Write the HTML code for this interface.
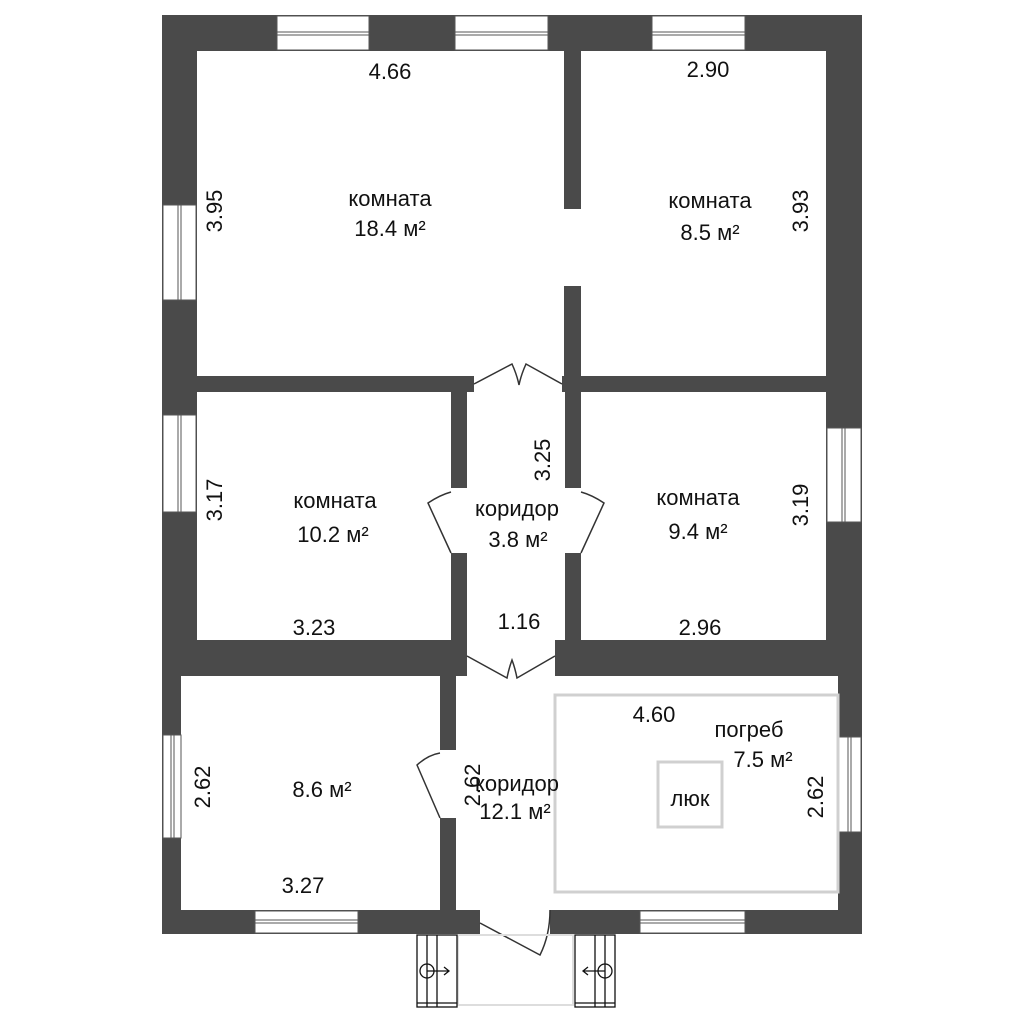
<!DOCTYPE html>
<html><head><meta charset="utf-8"><style>
html,body{margin:0;padding:0;background:#fff;width:1024px;height:1024px;overflow:hidden}
svg{display:block}
text{font-family:"Liberation Sans",sans-serif;fill:#111;font-size:22px}
</style></head><body>
<svg width="1024" height="1024" viewBox="0 0 1024 1024">
<g fill="#4a4a4a">
<rect x="162" y="15" width="700" height="36"/>
<rect x="162" y="15" width="35" height="661"/>
<rect x="826" y="15" width="36" height="661"/>
<rect x="162" y="640" width="19" height="294"/>
<rect x="838" y="640" width="24" height="294"/>
<rect x="162" y="910" width="318" height="24"/>
<rect x="550" y="910" width="312" height="24"/>
<rect x="564" y="51" width="17" height="158"/>
<rect x="564" y="286" width="17" height="106"/>
<rect x="197" y="376" width="277" height="16"/>
<rect x="562" y="376" width="264" height="16"/>
<rect x="451" y="376" width="16" height="112"/>
<rect x="451" y="553" width="16" height="123"/>
<rect x="565" y="376" width="16" height="112"/>
<rect x="565" y="553" width="16" height="87"/>
<rect x="162" y="640" width="305" height="36"/>
<rect x="555" y="640" width="307" height="36"/>
<rect x="440" y="676" width="16" height="74"/>
<rect x="440" y="818" width="16" height="92"/>
</g>
<g fill="#fff" stroke="#555" stroke-width="1">
<rect x="277" y="16" width="92" height="34"/><line x1="277" y1="32" x2="369" y2="32"/><line x1="277" y1="35" x2="369" y2="35"/>
<rect x="455" y="16" width="93" height="34"/><line x1="455" y1="32" x2="548" y2="32"/><line x1="455" y1="35" x2="548" y2="35"/>
<rect x="652" y="16" width="93" height="34"/><line x1="652" y1="32" x2="745" y2="32"/><line x1="652" y1="35" x2="745" y2="35"/>
<rect x="163" y="205" width="33" height="95"/><line x1="178" y1="205" x2="178" y2="300"/><line x1="181" y1="205" x2="181" y2="300"/>
<rect x="163" y="415" width="33" height="97"/><line x1="178" y1="415" x2="178" y2="512"/><line x1="181" y1="415" x2="181" y2="512"/>
<rect x="163" y="735" width="18" height="103"/><line x1="171" y1="735" x2="171" y2="838"/><line x1="174" y1="735" x2="174" y2="838"/>
<rect x="827" y="428" width="34" height="94"/><line x1="842" y1="428" x2="842" y2="522"/><line x1="845" y1="428" x2="845" y2="522"/>
<rect x="839" y="737" width="22" height="95"/><line x1="848" y1="737" x2="848" y2="832"/><line x1="851" y1="737" x2="851" y2="832"/>
<rect x="255" y="911" width="103" height="22"/><line x1="255" y1="920" x2="358" y2="920"/><line x1="255" y1="923" x2="358" y2="923"/>
<rect x="640" y="911" width="105" height="22"/><line x1="640" y1="920" x2="745" y2="920"/><line x1="640" y1="923" x2="745" y2="923"/>
</g>
<g fill="none" stroke="#333" stroke-width="1.5">
<path d="M474 384 L512 364 Q517 375 519 385 Q521 375 526 364 L562 384"/>
<path d="M467 656 L507 678 Q509 668 512 660 Q515 668 517 678 L555 656"/>
<path d="M451 553 L428 503 Q440 495 451 492"/>
<path d="M581 553 L604 503 Q592 495 581 492"/>
<path d="M440 818 L417 765 Q428 755 440 753"/>
<path d="M480 923 L540 955 Q550 935 550 910"/>
</g>
<rect x="555" y="695" width="283" height="197" fill="none" stroke="#d0d0d0" stroke-width="3"/>
<rect x="658" y="762" width="64" height="65" fill="none" stroke="#d0d0d0" stroke-width="3"/>
<rect x="458" y="935" width="115" height="70" fill="none" stroke="#ddd" stroke-width="2"/>
<g fill="none" stroke="#111" stroke-width="1.3">
<rect x="417" y="935" width="40" height="72"/><line x1="427" y1="935" x2="427" y2="1007"/><line x1="437" y1="935" x2="437" y2="1007"/><line x1="417" y1="1003" x2="457" y2="1003"/>
<circle cx="427" cy="971" r="7"/><path d="M427 971 H448 M444 967 L449 971 L444 975"/>
<rect x="575" y="935" width="40" height="72"/><line x1="595" y1="935" x2="595" y2="1007"/><line x1="605" y1="935" x2="605" y2="1007"/><line x1="575" y1="1003" x2="615" y2="1003"/>
<circle cx="605" cy="971" r="7"/><path d="M605 971 H584 M588 967 L583 971 L588 975"/>
</g>
<g text-anchor="middle">
<text x="390" y="79">4.66</text>
<text x="708" y="77">2.90</text>
<text x="390" y="206">комната</text>
<text x="390" y="236">18.4 м²</text>
<text x="710" y="208">комната</text>
<text x="710" y="240">8.5 м²</text>
<text x="335" y="508">комната</text>
<text x="333" y="542">10.2 м²</text>
<text x="698" y="505">комната</text>
<text x="698" y="539">9.4 м²</text>
<text x="517" y="516">коридор</text>
<text x="518" y="547">3.8 м²</text>
<text x="314" y="635">3.23</text>
<text x="519" y="629">1.16</text>
<text x="700" y="635">2.96</text>
<text x="322" y="797">8.6 м²</text>
<text x="303" y="893">3.27</text>
<text x="517" y="791">коридор</text>
<text x="515" y="819">12.1 м²</text>
<text x="654" y="722">4.60</text>
<text x="749" y="737">погреб</text>
<text x="763" y="767">7.5 м²</text>
<text x="690" y="806">люк</text>
</g>
<g text-anchor="middle">
<text transform="translate(222,211) rotate(-90)">3.95</text>
<text transform="translate(808,211) rotate(-90)">3.93</text>
<text transform="translate(222,500) rotate(-90)">3.17</text>
<text transform="translate(808,505) rotate(-90)">3.19</text>
<text transform="translate(550,460) rotate(-90)">3.25</text>
<text transform="translate(210,787) rotate(-90)">2.62</text>
<text transform="translate(480,785) rotate(-90)">2.62</text>
<text transform="translate(823,797) rotate(-90)">2.62</text>
</g>
</svg>
</body></html>
